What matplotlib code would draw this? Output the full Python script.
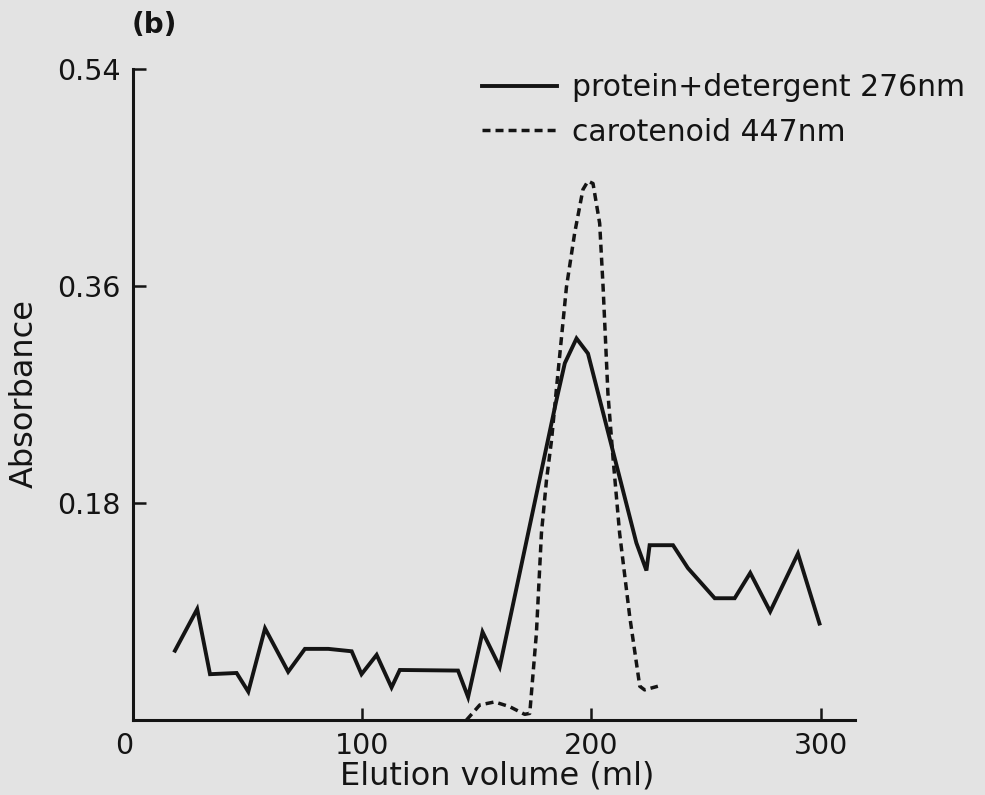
import matplotlib
matplotlib.use('Agg')
import matplotlib.pyplot as plt

# ---- data ----
protein_ml = [18.3, 28.0, 33.6, 45.2, 50.3, 57.6, 67.7, 75.0, 85.2, 95.4, 99.7,
              106.3, 112.8, 116.4, 141.8, 146.2, 152.5, 160.0, 184.7, 188.4,
              193.5, 198.5, 219.6, 224.0, 225.4, 235.6, 242.1, 253.8, 262.5,
              269.3, 278.0, 290.1, 299.5]
protein_abs = [0.0575, 0.092, 0.038, 0.039, 0.0235, 0.076, 0.040, 0.059, 0.059,
               0.057, 0.038, 0.054, 0.027, 0.0415, 0.041, 0.019, 0.073, 0.044,
               0.265, 0.296, 0.3165, 0.304, 0.147, 0.124, 0.145, 0.145, 0.126,
               0.101, 0.101, 0.122, 0.090, 0.138, 0.080]

carot_ml = [145.5, 151.3, 157.8, 164.4, 170.9, 173.1, 176.0, 178.2, 180.4,
            182.6, 184.7, 189.1, 192.7, 196.3, 198.5, 200.7, 203.6, 205.1,
            207.2, 209.4, 212.3, 216.7, 221.1, 223.2, 229.0]
carot_abs = [0.0, 0.0125, 0.015, 0.011, 0.0047, 0.0055, 0.072, 0.155, 0.199,
             0.232, 0.274, 0.359, 0.404, 0.440, 0.447, 0.445, 0.412, 0.359,
             0.271, 0.218, 0.155, 0.086, 0.028, 0.025, 0.028]

x_ticks = [0, 100, 200, 300]
y_ticks = [0.18, 0.36, 0.54]
y_tick_labels = ['0.18', '0.36', '0.54']
series_labels = ['protein+detergent 276nm', 'carotenoid 447nm']
x_label = 'Elution volume (ml)'
y_label = 'Absorbance'
panel_label = '(b)'

# ---- style ----
bg = '#e3e3e3'
ink = '#141414'
plt.rcParams['font.family'] = ['DejaVu Sans']

W, H = 985, 795
fig = plt.figure(figsize=(W / 100, H / 100), dpi=100, facecolor=bg)
ax = fig.add_axes([133 / W, 75 / H, (855 - 133) / W, (720 - 69) / H])
ax.set_facecolor(bg)

ax.plot(protein_ml, protein_abs, color=ink, lw=2.8, solid_joinstyle='miter',
        label=series_labels[0], clip_on=False)
ax.plot(carot_ml, carot_abs, color=ink, lw=2.5, dashes=(2.3, 1.45),
        label=series_labels[1], clip_on=False)

ax.set_xlim(0, 315)
ax.set_ylim(0, 0.54)
for s in ('top', 'right'):
    ax.spines[s].set_visible(False)
for s in ('left', 'bottom'):
    ax.spines[s].set_linewidth(2.2)
    ax.spines[s].set_color(ink)

ax.set_xticks(x_ticks)
ax.set_xticklabels([str(t) for t in x_ticks])
ax.set_yticks(y_ticks)
ax.set_yticklabels(y_tick_labels)
ax.tick_params(direction='in', length=9, width=1.8, colors=ink,
               labelsize=20.5, pad=9)
ax.tick_params(axis='y', pad=9)
ax.get_xticklabels()[0].set_ha('right')

ax.set_xlabel(x_label, fontsize=23, color=ink, va='center')
ax.xaxis.set_label_coords(497 / W, 1 - 776 / H, transform=fig.transFigure)
ax.set_ylabel(y_label, fontsize=23, color=ink, va='center')
ax.yaxis.set_label_coords(24 / W, 1 - 394 / H, transform=fig.transFigure)

fig.text(154 / W, 1 - 25 / H, panel_label, fontsize=20, fontweight='bold',
         color=ink, ha='center', va='center')

ax.legend(loc='upper left', bbox_to_anchor=(482 / W, 1 - 73 / H),
          bbox_transform=fig.transFigure, frameon=False, fontsize=21.5,
          handlelength=2.5, handletextpad=0.5, labelspacing=0.52,
          borderpad=0, borderaxespad=0, labelcolor=ink)

fig.savefig('out.png', dpi=100, facecolor=bg)
